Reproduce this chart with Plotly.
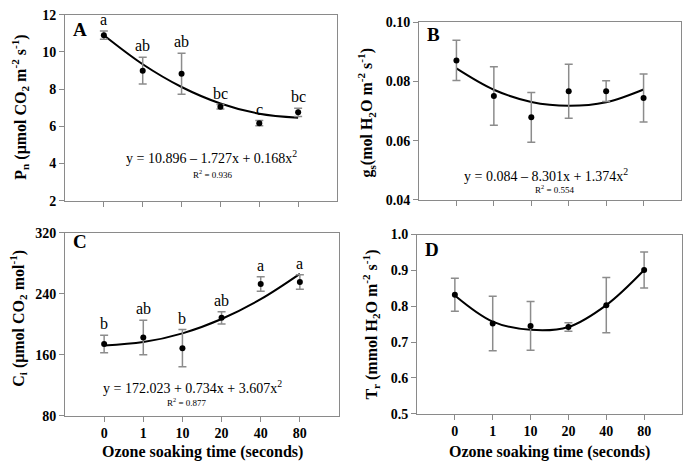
import plotly.graph_objects as go

# ---------------- data ----------------
categories = ["0", "1", "10", "20", "40", "80"]

pn_mean = [10.90, 8.99, 8.83, 7.05, 6.17, 6.75]
pn_err = [0.22, 0.72, 1.10, 0.12, 0.14, 0.22]
pn_letters = ["a", "ab", "ab", "bc", "c", "bc"]
pn_fit = [10.896, 9.337, 8.114, 7.227, 6.676, 6.461]

gs_mean = [0.0871, 0.0751, 0.0679, 0.0767, 0.0767, 0.0744]
gs_err = [0.0068, 0.0099, 0.0084, 0.0091, 0.0035, 0.0081]
gs_fit = [0.0844, 0.0772, 0.0731, 0.0718, 0.0730, 0.0773]

ci_mean = [174.0, 182.4, 168.5, 208.3, 252.7, 255.2]
ci_err = [11.5, 22.6, 24.4, 8.0, 9.5, 9.6]
ci_letters = ["b", "ab", "b", "ab", "a", "a"]
ci_fit = [172.0, 176.4, 187.9, 206.7, 232.7, 265.9]

tr_mean = [0.832, 0.752, 0.745, 0.742, 0.803, 0.901]
tr_err = [0.046, 0.076, 0.068, 0.012, 0.077, 0.050]
tr_fit = [0.830, 0.757, 0.734, 0.742, 0.803, 0.901]

# ---------------- figure ----------------
W, H = 685, 473
SERIF = "Liberation Serif"
GREY = "#8a8a8a"

def px_x(p):
    return p / W

def px_y(p):
    return 1 - p / H

fig = go.Figure()

panels = [
    ("A", pn_mean, pn_err, pn_fit, pn_letters, "x", "y"),
    ("B", gs_mean, gs_err, gs_fit, None, "x2", "y2"),
    ("C", ci_mean, ci_err, ci_fit, ci_letters, "x3", "y3"),
    ("D", tr_mean, tr_err, tr_fit, None, "x4", "y4"),
]

ann = []

for name, mean, err, fit, letters, xa, ya in panels:
    fig.add_trace(go.Scatter(
        x=categories, y=fit, mode="lines", line=dict(color="black", width=2, shape="spline"),
        xaxis=xa, yaxis=ya, showlegend=False, hoverinfo="skip"))
    fig.add_trace(go.Scatter(
        x=categories, y=mean, mode="markers",
        marker=dict(color="black", size=6),
        error_y=dict(type="data", array=err, color="#8c8c8c", thickness=1.5, width=4),
        xaxis=xa, yaxis=ya, showlegend=False))
    if letters:
        # category axis: annotation x given as the category's index on that axis
        for i, (m, e, t) in enumerate(zip(mean, err, letters)):
            ann.append(dict(x=i, y=m + e, xref=xa, yref=ya, text=t, showarrow=False,
                            xanchor="center", yanchor="bottom", yshift=1,
                            font=dict(family=SERIF, size=16, color="black")))

tickfont = dict(family=SERIF, size=14, color="black", weight="bold")

def xax(domain, anchor, labels):
    return dict(domain=domain, anchor=anchor, type="category", range=[-1, 6],
                showline=True, linecolor=GREY, linewidth=1, mirror=True,
                ticks="outside", ticklen=5, tickcolor=GREY, showgrid=False,
                zeroline=False, showticklabels=labels, tickfont=tickfont,
                categoryorder="array", categoryarray=categories)

def yax(domain, anchor, rng, dtick, fmt):
    return dict(domain=domain, anchor=anchor, range=rng, dtick=dtick, tickformat=fmt,
                showline=True, linecolor=GREY, linewidth=1, mirror=True,
                ticks="outside", ticklen=5, tickcolor=GREY, showgrid=False,
                zeroline=False, tickfont=tickfont)

A_x = [px_x(65), px_x(337)]; A_y = [px_y(200), px_y(8)]
B_x = [px_x(419), px_x(681)]; B_y = [px_y(199.3), px_y(15.7)]
C_x = [px_x(65), px_x(339)]; C_y = [px_y(422), px_y(233)]
D_x = [px_x(417), px_x(682)]; D_y = [px_y(420), px_y(235)]

fig.update_layout(
    width=W, height=H, margin=dict(l=0, r=0, t=0, b=0),
    plot_bgcolor="white", paper_bgcolor="white",
    xaxis=xax(A_x, "y", False), yaxis=yax(A_y, "x", [2, 12], 2, "d"),
    xaxis2=xax(B_x, "y2", False), yaxis2=yax(B_y, "x2", [0.04, 0.10], 0.02, ".2f"),
    xaxis3=xax(C_x, "y3", True), yaxis3=yax(C_y, "x3", [80, 320], 80, "d"),
    xaxis4=xax(D_x, "y4", True), yaxis4=yax(D_y, "x4", [0.5, 1.0], 0.1, ".1f"),
)


def note(x, y, text, size, bold=False, angle=0):
    ann.append(dict(x=px_x(x), y=px_y(y), xref="paper", yref="paper", text=text,
                    showarrow=False, textangle=angle, xanchor="center", yanchor="middle",
                    font=dict(family=SERIF, size=size, color="black",
                              weight="bold" if bold else "normal")))

# panel letters
note(80, 23.5, "A", 19, True)
note(433, 28, "B", 19, True)
note(80, 242.5, "C", 19, True)
note(432, 250, "D", 19, True)

# equations
note(211, 155, "y = 10.896 – 1.727x + 0.168x<sup>2</sup>", 14)
note(212, 172, "R<sup>2</sup> = 0.936", 9)
note(546, 173, "y = 0.084 – 8.301x + 1.374x<sup>2</sup>", 14)
note(554, 188, "R<sup>2</sup> = 0.554", 9)
note(192, 392, "y = 172.023 + 0.734x + 3.607x<sup>2</sup>", 14)
note(187, 408, "R<sup>2</sup> = 0.877", 9)

# y titles
note(20, 104, "P<sub>n</sub> (μmol CO<sub>2</sub> m<sup>-2</sup> s<sup>-1</sup>)", 16, True, -90)
note(366, 109, "g<sub>s</sub>(mol H<sub>2</sub>O m<sup>-2</sup> s<sup>-1</sup>)", 16, True, -90)
note(18, 322, "C<sub>i</sub> (μmol CO<sub>2</sub> mol<sup>-1</sup>)", 16, True, -90)
note(371, 328, "T<sub>r</sub> (mmol H<sub>2</sub>O m<sup>-2</sup> s<sup>-1</sup>)", 16, True, -90)

# x titles
note(202, 460, "Ozone soaking time (seconds)", 16, True)
note(549, 460, "Ozone soaking time (seconds)", 16, True)

fig.update_layout(annotations=ann)

fig.write_html("out.html", config={"displayModeBar": False},
               post_script="document.body.style.margin='0';")
